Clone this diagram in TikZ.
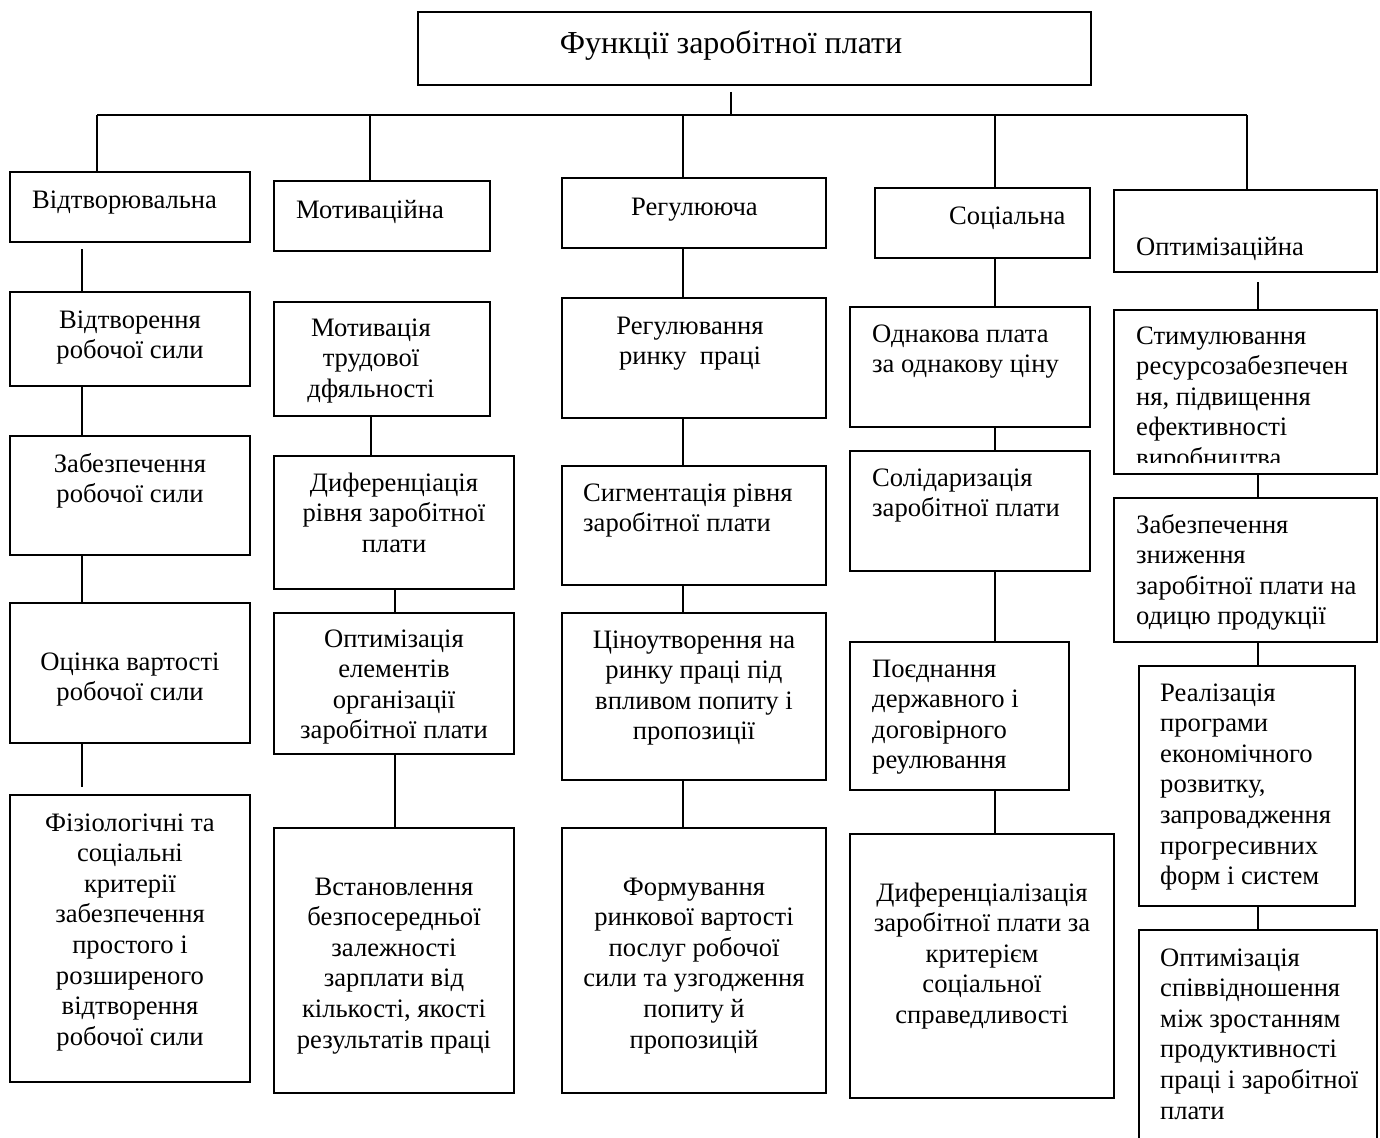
\documentclass[tikz,border=0pt]{standalone}
\usepackage{fontspec}
\setmainfont{Liberation Serif}
\newcommand\mybox[5]{\node[box, minimum width={(#4-#2)*1pt}, minimum height={(#5-#3)*1pt}] (#1) at ({(#2+#4)/2},{(#3+#5)/2}) {};}
\begin{document}
\begin{tikzpicture}[x=1pt,y=-1pt,
  box/.style={draw, line width=1.7pt, inner sep=0pt, outer sep=0pt},
  conn/.style={line width=1.4pt},
  txt/.style={inner sep=0pt, font=\fontsize{26.6}{30.6}\selectfont, align=center},
  txtl/.style={txt, align=left},
  ttl/.style={inner sep=0pt, font=\fontsize{32}{38}\selectfont}]
\useasboundingbox (0,0) rectangle (1380,1137);
\clip (0,0) rectangle (1380,1137);
% boxes
\mybox{title}{418}{12}{1091}{85}
\mybox{a0}{10}{172}{250}{242}
\mybox{a1}{10}{292}{250}{386}
\mybox{a2}{10}{436}{250}{555}
\mybox{a3}{10}{603}{250}{743}
\mybox{a4}{10}{795}{250}{1082}
\mybox{b0}{274}{181}{490}{251}
\mybox{b1}{274}{302}{490}{416}
\mybox{b2}{274}{456}{514}{589}
\mybox{b3}{274}{613}{514}{754}
\mybox{b4}{274}{828}{514}{1093}
\mybox{c0}{562}{178}{826}{248}
\mybox{c1}{562}{298}{826}{418}
\mybox{c2}{562}{466}{826}{585}
\mybox{c3}{562}{613}{826}{780}
\mybox{c4}{562}{828}{826}{1093}
\mybox{d0}{875}{188}{1090}{258}
\mybox{d1}{850}{307}{1090}{427}
\mybox{d2}{850}{451}{1090}{571}
\mybox{d3}{850}{642}{1069}{790}
\mybox{d4}{850}{834}{1114}{1098}
\mybox{e0}{1114}{190}{1377}{272}
\mybox{e1}{1114}{310}{1377}{474}
\mybox{e2}{1114}{498}{1377}{642}
\mybox{e3}{1139}{666}{1355}{906}
\mybox{e4}{1139}{930}{1377}{1160}
% texts (anchor = baseline of the last line)
\node[ttl, anchor=base] (titlet) at (731,54) {Функції заробітної плати};
\node[txt, anchor=base west] (a0t) at (32,208) {Відтворювальна};
\node[txt, anchor=base west] (b0t) at (296,218) {Мотиваційна};
\node[txt, anchor=base west] (c0t) at (631,215) {Регулююча};
\node[txt, anchor=base west] (d0t) at (949,224) {Соціальна};
\node[txt, anchor=base west] (e0t) at (1136,255) {Оптимізаційна};
\node[txt, anchor=base] (a1t) at (130,358.6) {Відтворення\\робочої сили};
\node[txt, anchor=base] (a2t) at (130,502.6) {Забезпечення\\робочої сили};
\node[txt, anchor=base] (a3t) at (130,700.6) {Оцінка вартості\\робочої сили};
\node[txt, anchor=base] (a4t) at (130,1045.2) {Фізіологічні та\\соціальні\\критерії\\забезпечення\\простого і\\розширеного\\відтворення\\робочої сили};
\node[txt, anchor=base] (b1t) at (371,397.2) {Мотивація\\трудової\\дфяльності};
\node[txt, anchor=base] (b2t) at (394,552.2) {Диференціація\\рівня заробітної\\плати};
\node[txt, anchor=base] (b3t) at (394,738.8) {Оптимізація\\елементів\\організації\\заробітної плати};
\node[txt, anchor=base] (b4t) at (394,1048) {Встановлення\\безпосередньої\\залежності\\зарплати від\\кількості, якості\\результатів праці};
\node[txt, anchor=base] (c1t) at (690,364.6) {Регулювання\\ринку\ \ праці};
\node[txtl, anchor=base west] (c2t) at (583,531.6) {Сигментація рівня\\заробітної плати};
\node[txt, anchor=base] (c3t) at (694,739.8) {Ціноутворення на\\ринку праці під\\впливом попиту і\\пропозиції};
\node[txt, anchor=base] (c4t) at (694,1048) {Формування\\ринкової вартості\\послуг робочої\\сили та узгодження\\попиту й\\пропозицій};
\node[txtl, anchor=base west] (d1t) at (872,372.6) {Однакова плата\\за однакову ціну};
\node[txtl, anchor=base west] (d2t) at (872,516.6) {Солідаризація\\заробітної плати};
\node[txtl, anchor=base west] (d3t) at (872,768.8) {Поєднання\\державного і\\договірного\\реулювання};
\node[txt, anchor=base] (d4t) at (982,1023.4) {Диференціалізація\\заробітної плати за\\критерієм\\соціальної\\справедливості};
\begin{scope}
\clip (1114,310) rectangle (1377,462);
\node[txtl, anchor=base west] (e1t) at (1136,466.4) {Стимулювання\\ресурсозабезпечен\\ня, підвищення\\ефективності\\виробництва};
\end{scope}
\node[txtl, anchor=base west] (e2t) at (1136,624.8) {Забезпечення\\зниження\\заробітної плати на\\одицю продукції};
\node[txtl, anchor=base west] (e3t) at (1160,884.6) {Реалізація\\програми\\економічного\\розвитку,\\запровадження\\прогресивних\\форм і систем};
\node[txtl, anchor=base west] (e4t) at (1160,1119) {Оптимізація\\співвідношення\\між зростанням\\продуктивності\\праці і заробітної\\плати};
% connectors
\coordinate (hub) at (731,115);
\coordinate (x1) at (97,115);
\coordinate (x2) at (370,115);
\coordinate (x3) at (683,115);
\coordinate (x4) at (995,115);
\coordinate (x5) at (1247,115);
\coordinate (k1) at (82,0);
\coordinate (k2) at (371,0);
\coordinate (k2b) at (395,0);
\coordinate (k3) at (683,0);
\coordinate (k4) at (995,0);
\coordinate (k5) at (1258,0);
\draw[conn, shorten <=7pt] (title.south -| hub) -- (hub);
\draw[conn] (x1) -- (x5);
\draw[conn] (x1) -- (a0.north -| x1);
\draw[conn] (x2) -- (b0.north -| x2);
\draw[conn] (x3) -- (c0.north -| x3);
\draw[conn] (x4) -- (d0.north -| x4);
\draw[conn] (x5) -- (e0.north -| x5);
\draw[conn, shorten <=7pt] (a0.south -| k1) -- (a1.north -| k1);
\draw[conn] (a1.south -| k1) -- (a2.north -| k1);
\draw[conn] (a2.south -| k1) -- (a3.north -| k1);
\draw[conn, shorten >=8pt] (a3.south -| k1) -- (a4.north -| k1);
\draw[conn] (b1.south -| k2) -- (b2.north -| k2);
\draw[conn] (b2.south -| k2b) -- (b3.north -| k2b);
\draw[conn] (b3.south -| k2b) -- (b4.north -| k2b);
\draw[conn] (c0.south -| k3) -- (c1.north -| k3);
\draw[conn] (c1.south -| k3) -- (c2.north -| k3);
\draw[conn] (c2.south -| k3) -- (c3.north -| k3);
\draw[conn] (c3.south -| k3) -- (c4.north -| k3);
\draw[conn] (d0.south -| k4) -- (d1.north -| k4);
\draw[conn] (d1.south -| k4) -- (d2.north -| k4);
\draw[conn] (d2.south -| k4) -- (d3.north -| k4);
\draw[conn] (d3.south -| k4) -- (d4.north -| k4);
\draw[conn, shorten <=10pt] (e0.south -| k5) -- (e1.north -| k5);
\draw[conn] (e1.south -| k5) -- (e2.north -| k5);
\draw[conn] (e2.south -| k5) -- (e3.north -| k5);
\draw[conn] (e3.south -| k5) -- (e4.north -| k5);
\end{tikzpicture}
\end{document}
